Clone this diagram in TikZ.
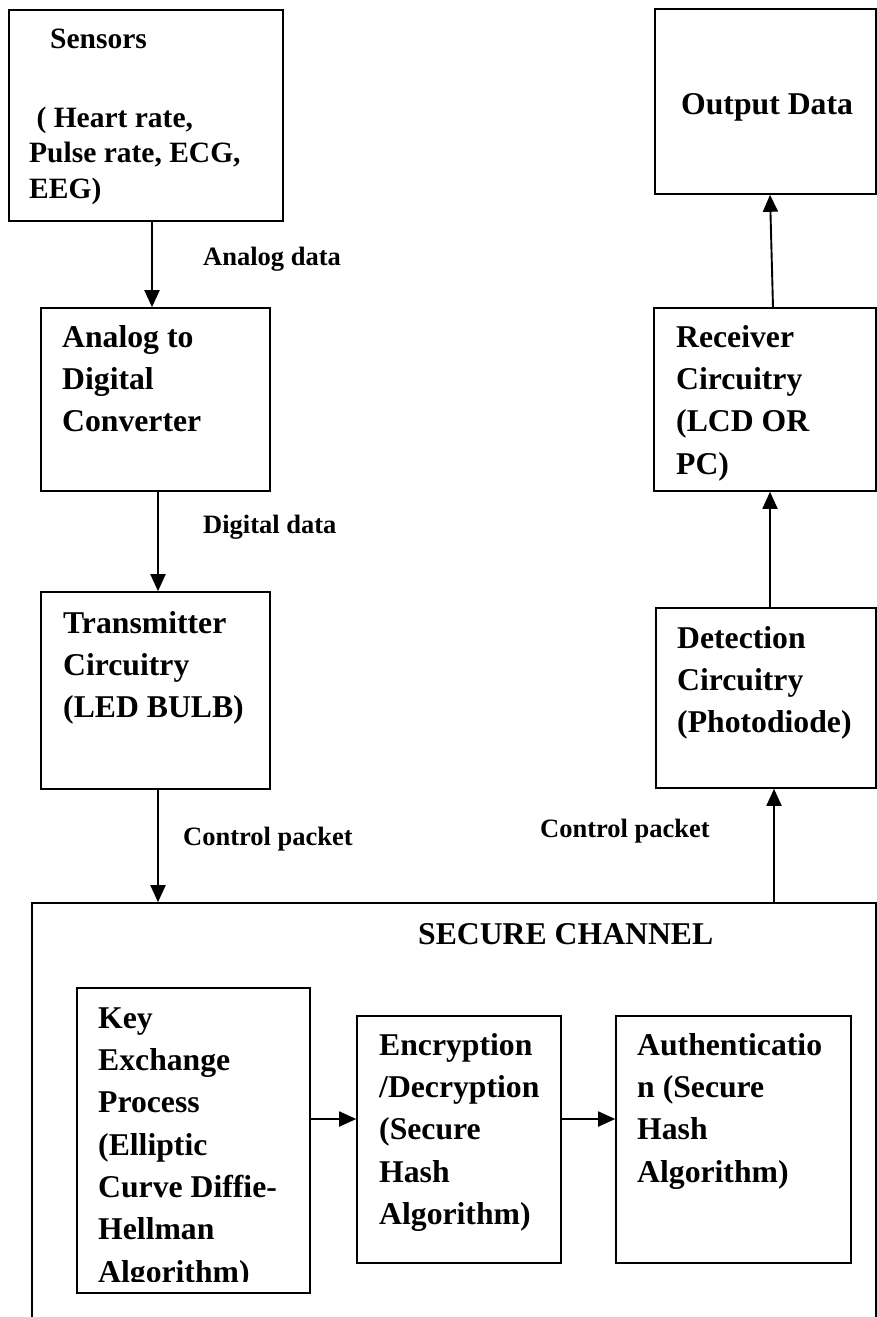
\documentclass[tikz,border=0pt]{standalone}
\usepackage{fontspec}
\setmainfont{Liberation Serif}
\usetikzlibrary{arrows.meta,fit}
\begin{document}
\begin{tikzpicture}[x=1pt,y=-1pt,
  box/.style={draw, line width=1.6pt, inner sep=0pt},
  arr/.style={line width=1.9pt, -{Triangle[length=17pt,width=15pt]}},
  btext/.style={anchor=north west, inner sep=0pt, align=left, font=\bfseries\fontsize{31.7}{42.3}\selectfont},
  stext/.style={anchor=north west, inner sep=0pt, align=left, font=\bfseries\fontsize{29.5}{35.5}\selectfont},
  ltext/.style={anchor=base west, inner sep=0pt, font=\bfseries\fontsize{31.7}{42.3}\selectfont},
  lbl/.style={anchor=base west, inner sep=0pt, font=\bfseries\fontsize{26.5}{32}\selectfont},
]
\useasboundingbox (0,0) rectangle (877,1317);
\clip (0,0) rectangle (877,1317);

% boxes
\node[box, fit={(9,10) (283,221)}] (sens) {};
\node[box, fit={(655,9) (876,194)}] (out) {};
\node[box, fit={(41,308) (270,491)}] (adc) {};
\node[box, fit={(654,308) (876,491)}] (rec) {};
\node[box, fit={(41,592) (270,789)}] (trans) {};
\node[box, fit={(656,608) (876,788)}] (det) {};
\node[box, fit={(32,903) (876,1340)}] (sec) {};
\node[box, fit={(77,988) (310,1293)}] (key) {};
\node[box, fit={(357,1016) (561,1263)}] (enc) {};
\node[box, fit={(616,1016) (851,1263)}] (auth) {};

% texts
\node[stext] (sensT) at (29,{48-24.85}) {\strut\hspace*{21pt}Sensors\\[43.5pt]\ ( Heart rate,\\Pulse rate, ECG,\\EEG)};
\node[ltext] (outT) at (681,114) {Output Data};
\node[btext] (adcT) at (62,{347-29.61}) {\strut Analog to\\Digital\\Converter};
\node[btext] (transT) at (63,{633-29.61}) {\strut Transmitter\\Circuitry\\(LED BULB)};
\node[btext] (recT) at (676,{347-29.61}) {\strut Receiver\\Circuitry\\(LCD OR\\PC)};
\node[btext] (detT) at (677,{648-29.61}) {\strut Detection\\Circuitry\\(Photodiode)};
\node[ltext] (secT) at (418,944) {SECURE CHANNEL};
\begin{scope}
\clip (77,988) rectangle (310,1281);
\node[btext] (keyT) at (98,{1028-29.61}) {\strut Key\\Exchange\\Process\\(Elliptic\\Curve Diffie-\\Hellman\\Algorithm)};
\end{scope}
\node[btext] (encT) at (379,{1055-29.61}) {\strut Encryption\\/Decryption\\(Secure\\Hash\\Algorithm)};
\node[btext] (authT) at (637,{1055-29.61}) {\strut Authenticatio\\n (Secure\\Hash\\Algorithm)};

% labels
\node[lbl] (l1) at (203,265) {Analog data};
\node[lbl] (l2) at (203,533) {Digital data};
\node[lbl] (l3) at (183,845) {Control packet};
\node[lbl] (l4) at (540,837) {Control packet};

% arrow x positions
\coordinate (x1) at (152,0);
\coordinate (x2) at (158,0);
\coordinate (x3) at (774,0);
\coordinate (x4) at (770,0);
\coordinate (x5) at (773,0);
\coordinate (yh) at (0,1119);

\draw[arr] (sens.south -| x1) -- (adc.north -| x1);
\draw[arr] (adc.south -| x2) -- (trans.north -| x2);
\draw[arr] (trans.south -| x2) -- (sec.north -| x2);
\draw[arr] (sec.north -| x3) -- (det.south -| x3);
\draw[arr] (det.north -| x4) -- (rec.south -| x4);
\draw[arr] (rec.north -| x5) -- (out.south -| x4);
\draw[arr] (key.east |- yh) -- (enc.west |- yh);
\draw[arr] (enc.east |- yh) -- (auth.west |- yh);
\end{tikzpicture}
\end{document}
